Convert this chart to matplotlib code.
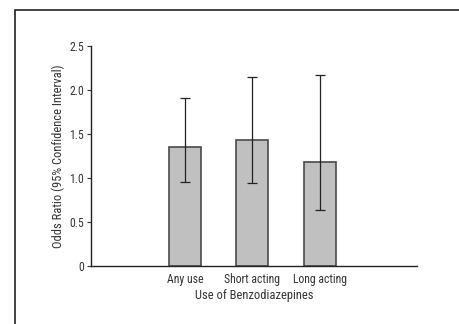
import matplotlib.pyplot as plt
from matplotlib.patches import Rectangle

categories = ['Any use', 'Short acting', 'Long acting']
odds = [1.35, 1.43, 1.18]
ci_low = [0.95, 0.94, 0.64]
ci_high = [1.91, 2.15, 2.17]
yticks = [0, 0.5, 1.0, 1.5, 2.0, 2.5]
ytick_labels = ['0', '0.5', '1.0', '1.5', '2.0', '2.5']

plt.rcParams['font.family'] = ['Roboto Condensed', 'DejaVu Sans']
plt.rcParams['font.size'] = 8.5

fig = plt.figure(figsize=(4.59, 3.24), dpi=100)
ax = fig.add_axes([91 / 459, 1 - 266 / 324, 326 / 459, 220 / 324])

# outer frame around the figure, as in the printed version
fig.patches.append(Rectangle((15 / 459, -0.1), 1.2, 1 - 10 / 324 + 0.1,
                             transform=fig.transFigure, fill=False,
                             edgecolor='#222222', linewidth=1.2))

x = list(range(len(categories)))
err_low = [o - l for o, l in zip(odds, ci_low)]
err_high = [h - o for o, h in zip(odds, ci_high)]
ax.bar(x, odds, width=0.47, color='#c0c0c0', edgecolor='#4a4a4a', linewidth=1.2)
ax.errorbar(x, odds, yerr=[err_low, err_high], fmt='none', ecolor='#222222',
            elinewidth=0.9, capsize=3.5, capthick=0.9)

ax.set_xlim(-1.39, 3.44)
ax.set_ylim(0, 2.5)
ax.set_xticks(x)
ax.set_xticklabels(categories, color='#333333')
ax.tick_params(axis='x', length=0, pad=5)
ax.set_yticks(yticks)
ax.set_yticklabels(ytick_labels, color='#333333')
ax.tick_params(axis='y', length=3, width=0.8, color='#333333', pad=2)
for s in ['top', 'right']:
    ax.spines[s].set_visible(False)
for s in ['left', 'bottom']:
    ax.spines[s].set_color('#222222')
    ax.spines[s].set_linewidth(1.0)

ax.set_xlabel('Use of Benzodiazepines', fontsize=9, color='#333333', labelpad=2)
ax.set_ylabel('Odds Ratio (95% Confidence Interval)', fontsize=9, color='#333333', labelpad=3)

fig.savefig('out.png', dpi=100)
